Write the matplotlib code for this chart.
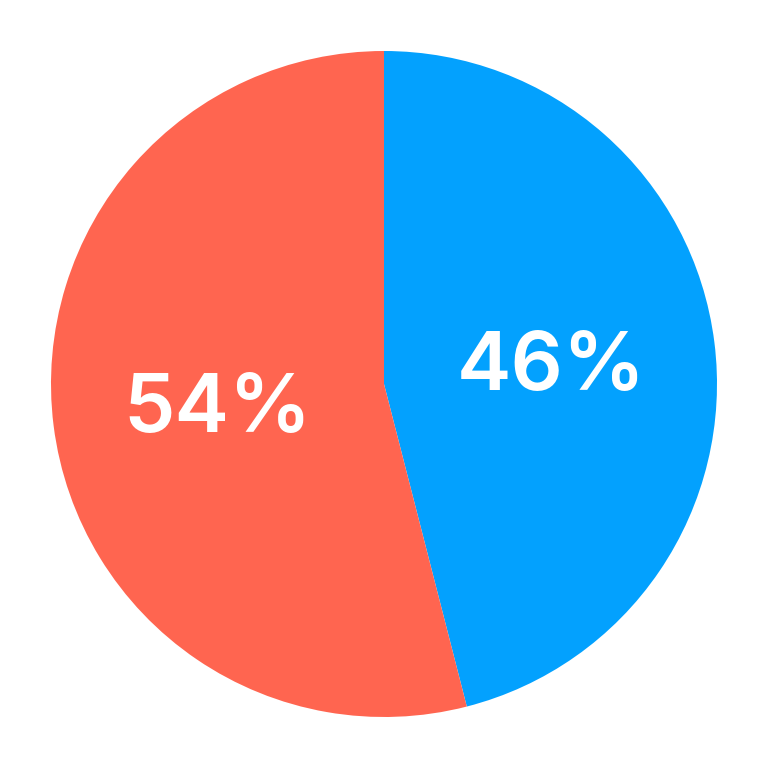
import matplotlib
matplotlib.use("Agg")
import matplotlib.pyplot as plt
import matplotlib.transforms as mtransforms

labels = ["Blue", "Red"]
values = [46, 54]
colors = ["#03A1FE", "#FF6550"]

fig = plt.figure(figsize=(7.68, 7.68), dpi=100)
ax = fig.add_axes([0, 0, 1, 1])
wedges, texts, autotexts = ax.pie(
    values, colors=colors, startangle=90, counterclock=False,
    autopct=lambda p: f"{p:.0f}%", pctdistance=0.505,
    radius=1.0,
    textprops=dict(color="white", fontsize=59, fontweight="semibold",
                   family="Inter"),
    wedgeprops=dict(linewidth=0),
)
for t in autotexts:
    t.set_transform(ax.transData + mtransforms.ScaledTranslation(0, -6 / 100, fig.dpi_scale_trans))
lim = 384 / 333
ax.set_xlim(-lim, lim)
ax.set_ylim(-lim, lim)
ax.set_aspect("equal")
ax.axis("off")
fig.savefig("out.png", dpi=100, facecolor="white")
